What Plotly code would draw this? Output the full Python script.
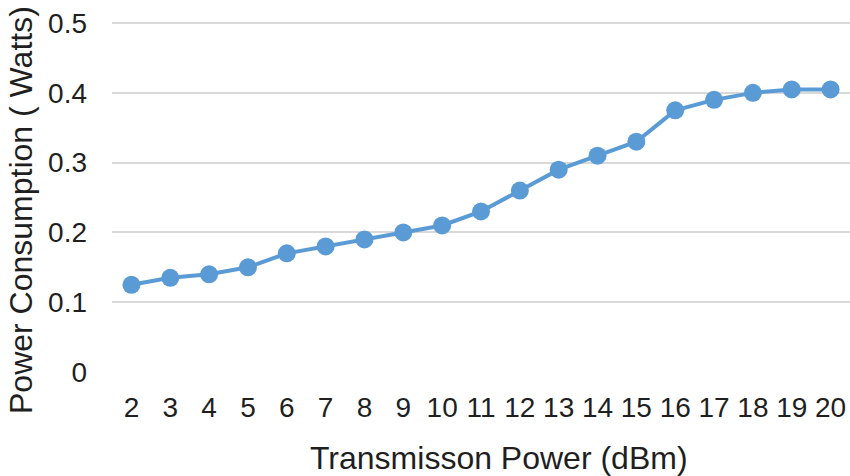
import plotly.graph_objects as go

tx_power = [2, 3, 4, 5, 6, 7, 8, 9, 10, 11, 12, 13, 14, 15, 16, 17, 18, 19, 20]
power_consumption = [0.125, 0.135, 0.14, 0.15, 0.17, 0.18, 0.19, 0.20, 0.21, 0.23,
                     0.26, 0.29, 0.31, 0.33, 0.375, 0.39, 0.40, 0.405, 0.405]
y_ticks = [0, 0.1, 0.2, 0.3, 0.4, 0.5]
y_tick_labels = ["0", "0.1", "0.2", "0.3", "0.4", "0.5"]

x_title = "Transmisson Power (dBm)"
y_title = "Power Consumption ( Watts)"

color = "#5B9BD5"
font_family = "Liberation Sans, Arial, sans-serif"
text_color = "#1f1f1f"

W, H = 850, 476
L, R, T = 112, 0, 21
PLOT_H = 351
B = H - T - PLOT_H

fig = go.Figure()
fig.add_trace(go.Scatter(
    x=tx_power, y=power_consumption, mode="lines+markers",
    line=dict(color=color, width=4),
    marker=dict(color=color, size=18),
    showlegend=False, hoverinfo="x+y",
))

fig.update_layout(
    width=W, height=H,
    margin=dict(l=L, r=R, t=T, b=B, pad=0),
    paper_bgcolor="white", plot_bgcolor="white",
    font=dict(family=font_family, color=text_color, size=28),
    xaxis=dict(
        range=[1.5, 20.5], tickmode="array", tickvals=tx_power,
        ticktext=[str(v) for v in tx_power],
        showgrid=False, zeroline=False, showline=False, ticks="",
        ticklabelstandoff=16, tickfont=dict(size=28, color=text_color),
        ticklabeloverflow="allow", fixedrange=True,
    ),
    yaxis=dict(
        range=[0, 0.503], tickmode="array", tickvals=y_ticks, ticktext=y_tick_labels,
        showgrid=True, gridcolor="#d9d9d9", gridwidth=2,
        zeroline=False, showline=False, ticks="",
        ticklabelstandoff=24, tickfont=dict(size=28, color=text_color),
        ticklabeloverflow="allow", fixedrange=True,
    ),
)

plot_w = W - L - R
bottom_px = T + PLOT_H
fig.add_annotation(
    text=x_title, xref="paper", yref="paper",
    x=(499 - L) / plot_w, y=-(458 - bottom_px) / PLOT_H,
    xanchor="center", yanchor="middle", showarrow=False,
    font=dict(size=32, color=text_color, family=font_family),
)
fig.add_annotation(
    text=y_title, xref="paper", yref="paper",
    x=(21 - L) / plot_w, y=(bottom_px - 210) / PLOT_H,
    xanchor="center", yanchor="middle", showarrow=False, textangle=-90,
    font=dict(size=32, color=text_color, family=font_family),
)

fig.write_html(
    "out.html",
    config={"displayModeBar": False},
    post_script="document.body.style.margin='0';document.body.style.overflow='hidden';",
)
